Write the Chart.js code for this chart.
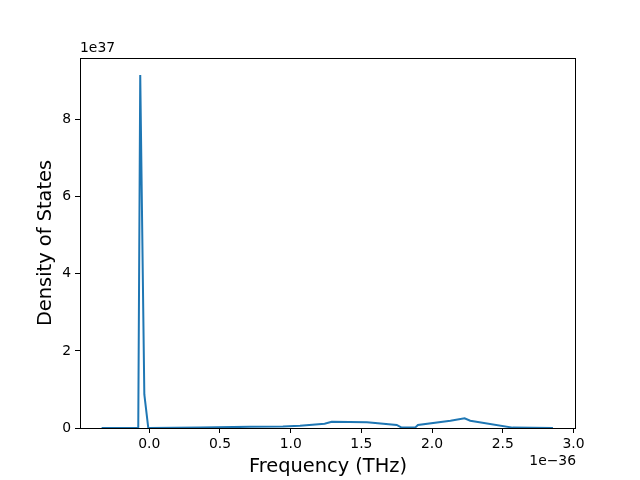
<!DOCTYPE html>
<html>
<head>
<meta charset="utf-8">
<script src="https://cdn.jsdelivr.net/npm/chart.js@4/dist/chart.umd.min.js"></script>
<style>
  html, body { margin: 0; padding: 0; background: #fff; }
  #wrap { width: 640px; height: 480px; }
</style>
</head>
<body>
<div id="wrap"><canvas id="dos"></canvas></div>
<script>
// Frequency in units of 1e-36 THz, density in units of 1e37
const freq = [-0.337, -0.078, -0.064, -0.035, -0.007, 0.36, 0.71, 0.945, 1.066, 1.24, 1.29,
  1.54, 1.75, 1.785, 1.88, 1.90, 2.13, 2.23, 2.27, 2.57, 2.855];
const dos = [0, 0, 9.16, 0.87, 0, 0.01, 0.03, 0.04, 0.06, 0.11, 0.16,
  0.15, 0.08, 0.01, 0.01, 0.08, 0.19, 0.25, 0.19, 0.01, 0];
const xTicks = [0, 0.5, 1.0, 1.5, 2.0, 2.5, 3.0];
const yTicks = [0, 2, 4, 6, 8];

const FONT = "'DejaVu Sans', sans-serif";
Chart.defaults.font.family = FONT;
Chart.defaults.color = '#000';

// axes frame + matplotlib-style offset labels
const framePlugin = {
  id: 'frame',
  afterDraw(chart) {
    const { ctx, chartArea: a } = chart;
    ctx.save();
    ctx.strokeStyle = '#000';
    ctx.lineWidth = 1;
    ctx.strokeRect(a.left + 0.5, a.top + 0.5, a.right - a.left - 1, a.bottom - a.top);
    ctx.fillStyle = '#000';
    ctx.font = '13.9px ' + FONT;
    ctx.textAlign = 'left';
    ctx.textBaseline = 'bottom';
    ctx.fillText('1e37', a.left, a.top - 3);
    ctx.textAlign = 'right';
    ctx.textBaseline = 'top';
    ctx.fillText('1e\u221236', a.right, a.bottom + 26);
    ctx.restore();
  },
};

new Chart(document.getElementById('dos'), {
  type: 'line',
  data: {
    datasets: [{
      data: freq.map((f, i) => ({ x: f, y: dos[i] })),
      borderColor: '#1f77b4',
      borderWidth: 2,
      pointRadius: 0,
      tension: 0,
      fill: false,
    }],
  },
  options: {
    responsive: true,
    maintainAspectRatio: false,
    animation: false,
    layout: { padding: { left: 0, right: 64, top: 58, bottom: 0 } },
    plugins: { legend: { display: false }, tooltip: { enabled: false } },
    scales: {
      x: {
        type: 'linear',
        min: -0.49,
        max: 3.018,
        afterBuildTicks: s => { s.ticks = xTicks.map(v => ({ value: v })); },
        afterFit: s => { s.height = 52; },
        grid: { drawOnChartArea: false, drawTicks: true, tickLength: 5, color: '#000' },
        border: { display: false },
        ticks: { font: { size: 13.9 }, padding: 3, maxRotation: 0, callback: v => v.toFixed(1) },
        title: { display: true, text: 'Frequency (THz)', font: { size: 19.4 }, padding: { top: 0, bottom: 1 } },
      },
      y: {
        type: 'linear',
        min: 0,
        max: 9.6,
        afterBuildTicks: s => { s.ticks = yTicks.map(v => ({ value: v })); },
        afterFit: s => { s.width = 80; },
        grid: { drawOnChartArea: false, drawTicks: true, tickLength: 5, color: '#000' },
        border: { display: false },
        ticks: { font: { size: 13.9 }, padding: 4, callback: v => String(v) },
        title: { display: true, text: 'Density of States', font: { size: 19.4 }, padding: { top: 34, bottom: 0 } },
      },
    },
  },
  plugins: [framePlugin],
});
</script>
</body>
</html>
